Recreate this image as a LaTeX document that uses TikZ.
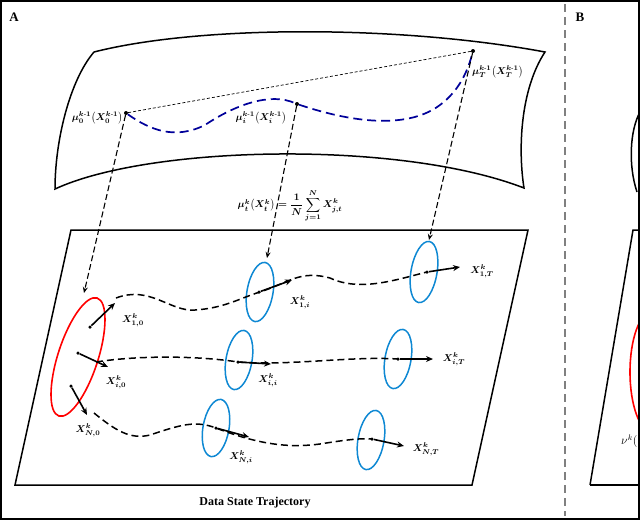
\documentclass[tikz,border=0pt]{standalone}
\usepackage{amsmath}
\usepackage{fontspec}
\setmainfont{Liberation Serif}
\usetikzlibrary{arrows.meta}
\begin{document}
\begin{tikzpicture}[x=1pt,y=-1pt,
  lab/.style={font=\fontsize{10}{11}\selectfont\boldmath, inner sep=1pt},
  traj/.style={dash pattern=on 7pt off 4pt, line width=1.5pt},
  vec/.style={-{Stealth[length=7pt,width=6pt]}, line width=1.6pt},
  drop/.style={-{Stealth[length=6pt,width=5pt]}, dash pattern=on 6pt off 3pt, line width=1.1pt},
  dot/.style={circle, fill=black, inner sep=0pt, minimum size=4pt},
  blueell/.style={draw=cyan!70!blue, line width=1.5pt},
  edge/.style={line width=1.5pt}]
\useasboundingbox (0,0) rectangle (640,520);
\begin{scope}
\clip (0,0) rectangle (640,520);
\draw[gray, dash pattern=on 8pt off 5pt, line width=1.1pt] (565,4) -- (565,516);
\node[font=\bfseries\fontsize{13}{14}\selectfont] (A) at (14,17) {A};
\node[font=\bfseries\fontsize{13}{14}\selectfont] (B) at (580,17) {B};
\draw[edge] (94,52) .. controls (200,25) and (400,25) .. (545,52)
  .. controls (520,90) and (518,150) .. (524,188)
  .. controls (400,140) and (150,145) .. (55,189)
  .. controls (55,140) and (70,80) .. (94,52);
\node[dot] (m0) at (126,113) {};
\node[dot] (mi) at (297,104) {};
\node[dot] (mT) at (473,51) {};
\draw[dash pattern=on 3pt off 2pt, line width=0.7pt] (m0) -- (mT);
\draw[blue!60!black, dash pattern=on 9pt off 5pt, line width=1.7pt] (m0) .. controls (150,130) and (175,140) .. (205,125)
  .. controls (235,105) and (270,92) .. (mi)
  .. controls (330,115) and (400,135) .. (440,105) .. controls (460,90) and (468,70) .. (mT);
\node[lab, anchor=east] (l0) at (124,118) {$\mu_0^{k\text{-}1}\big(X_0^{k\text{-}1}\big)$};
\node[lab] (li) at (261,118) {$\mu_i^{k\text{-}1}\big(X_i^{k\text{-}1}\big)$};
\node[lab, anchor=west] (lT) at (471,72) {$\mu_T^{k\text{-}1}\big(X_T^{k\text{-}1}\big)$};
\node[lab] (form) at (290,206) {$\mu_t^k\big(X_t^k\big)=\dfrac{1}{N}\displaystyle\sum_{j=1}^{N}X_{j,t}^k$};
\draw[edge] (71,230) -- (528,230) -- (472,485) -- (15,485) -- cycle;
\node[font=\bfseries\fontsize{12}{14}\selectfont] (title) at (255,503) {Data State Trajectory};
\draw[red, line width=1.6pt, rotate around={-18:(78,357)}] (78,357) ellipse [x radius=20, y radius=62];
\coordinate (r0) at (84,293);
\coordinate (e1t) at (267,258);
\coordinate (e2t) at (429,240);
\draw[drop] (m0) -- (r0);
\draw[drop] (mi) -- (e1t);
\draw[drop] (mT) -- (e2t);
\foreach \c/\r in {{(260,292)}/30, {(424,272)}/31, {(239,360)}/30, {(398,359)}/30, {(216,428)}/29, {(371,440)}/30}
  \draw[blueell, rotate around={-10:\c}] \c ellipse [x radius=13, y radius=\r];
\draw[traj] (116,298) .. controls (150,285) and (170,312) .. (195,310) .. controls (225,308) and (240,298) .. (260,292)
  .. controls (290,282) and (300,270) .. (330,278) .. controls (360,292) and (395,280) .. (427,272);
\draw[traj] (96,362) .. controls (140,355) and (200,356) .. (238,362) .. controls (290,366) and (350,356) .. (398,359);
\draw[traj] (94,413) .. controls (115,430) and (130,440) .. (150,435) .. controls (180,425) and (195,420) .. (216,428)
  .. controls (260,445) and (290,448) .. (320,444) .. controls (345,440) and (360,438) .. (372,439);
\foreach \a/\b/\n in {{(90,327)}/{(115,303)}/v1, {(78,353)}/{(108,367)}/v2, {(71,386)}/{(87,415)}/v3,
  {(259,292)}/{(292,280)}/v4, {(427,272)}/{(460,267)}/v5, {(238,362)}/{(271,364)}/v6,
  {(398,359)}/{(433,359)}/v7, {(216,428)}/{(249,437)}/v8, {(372,439)}/{(404,446)}/v9} {
  \node[dot, minimum size=3.5pt] (\n) at \a {};
  \draw[vec] (\n) -- \b;
}
\node[lab] at (133,320) {$X^k_{1,0}$};
\node[lab] at (116,382) {$X^k_{i,0}$};
\node[lab] at (88,430) {$X^k_{N,0}$};
\node[lab] at (300,302) {$X^k_{1,i}$};
\node[lab] at (482,271) {$X^k_{1,T}$};
\node[lab] at (268,380) {$X^k_{i,i}$};
\node[lab] at (454,359) {$X^k_{i,T}$};
\node[lab] at (241,457) {$X^k_{N,i}$};
\node[lab] at (426,449) {$X^k_{N,T}$};
\draw[edge] (640,112) .. controls (630,130) and (628,165) .. (637,192);
\draw[edge] (590,485) -- (633,230) -- (640,230);
\draw[edge] (590,485) -- (640,485);
\draw[red, line width=1.6pt] (652,372) ellipse [x radius=22, y radius=60];
\node[lab, anchor=west, font=\fontsize{12}{13}\selectfont] at (620,441) {$\nu^k($};
\end{scope}
\draw[line width=2pt] (1,1) rectangle (639,519);
\end{tikzpicture}
\end{document}
